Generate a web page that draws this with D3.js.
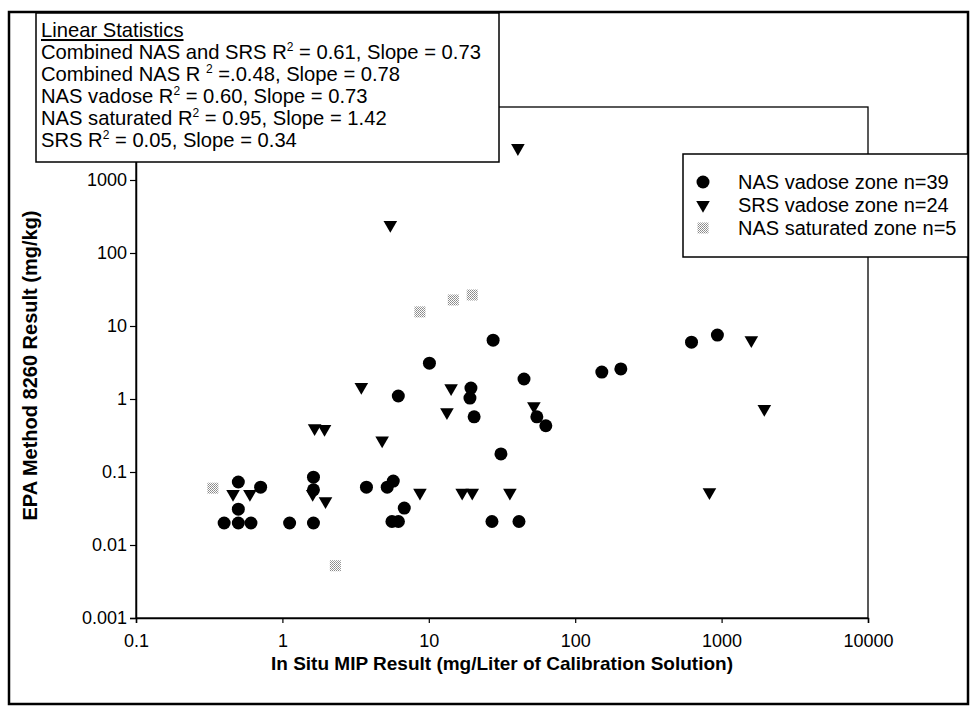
<!DOCTYPE html>
<html><head><meta charset="utf-8">
<script src="https://cdn.jsdelivr.net/npm/d3@7"></script>
<style>html,body{margin:0;padding:0;background:#fff;}svg{display:block;font-family:Arial,"Liberation Sans",sans-serif;}</style>
</head><body>
<svg id="c" width="971" height="711"></svg>
<script>
// ---- data ----
const nasVadoseX = [0.40,0.50,0.61,0.50,0.50,0.71,1.12,1.63,1.63,1.63,3.75,5.2,5.72,5.6,6.2,6.8,6.19,10.1,19.4,19.1,20.4,27.5,31.1,27,41.3,44.7,54.7,63,152,205,623,936];
const nasVadoseY = [0.02,0.02,0.02,0.031,0.073,0.062,0.02,0.02,0.085,0.057,0.062,0.062,0.075,0.021,0.021,0.032,1.1,3.1,1.41,1.03,0.57,6.4,0.177,0.021,0.021,1.88,0.57,0.43,2.34,2.58,6.0,7.5];
const srsX = [0.46,0.60,1.61,1.97,1.66,1.94,3.46,4.8,8.7,5.46,13.3,14.2,16.9,19.8,40.6,35.8,52.2,1596,1958,826];
const srsY = [0.05,0.05,0.05,0.04,0.40,0.39,1.46,0.27,0.052,242,0.66,1.41,0.052,0.052,2740,0.052,0.80,6.4,0.73,0.053];
const nasSatX = [0.335,2.30,8.7,14.7,19.8];
const nasSatY = [0.060,0.0052,15.6,22.7,26.6];
const xTicks = [0.1,1,10,100,1000,10000];
const xTickLabels = ["0.1","1","10","100","1000","10000"];
const yTicks = [0.001,0.01,0.1,1,10,100,1000];
const yTickLabels = ["0.001","0.01","0.1","1","10","100","1000"];
const legendLabels = ["NAS vadose zone n=39","SRS vadose zone n=24","NAS saturated zone n=5"];
const statsTitle = "Linear Statistics";
const statsLines = [
  ["Combined NAS and SRS R","2"," = 0.61, Slope = 0.73"],
  ["Combined NAS R ","2"," =.0.48, Slope = 0.78"],
  ["NAS vadose R","2"," = 0.60, Slope = 0.73"],
  ["NAS saturated R","2"," = 0.95, Slope = 1.42"],
  ["SRS R","2"," = 0.05, Slope = 0.34"]
];
const xTitle = "In Situ MIP Result (mg/Liter of Calibration Solution)";
const yTitle = "EPA Method 8260 Result (mg/kg)";

// ---- layout ----
const svg = d3.select("#c");
const L = 136, R = 868, T = 107, B = 618;
const x = d3.scaleLog().domain([0.1,10000]).range([L,R]);
const y = d3.scaleLog().domain([0.001,10000]).range([B,T]);

const defs = svg.append("defs");
const pat = defs.append("pattern").attr("id","dither").attr("patternUnits","userSpaceOnUse").attr("width",2).attr("height",2);
pat.append("rect").attr("width",2).attr("height",2).attr("fill","#fff");
pat.append("rect").attr("width",1).attr("height",1).attr("fill","#888");
pat.append("rect").attr("x",1).attr("y",1).attr("width",1).attr("height",1).attr("fill","#999");

// outer frame
svg.append("rect").attr("x",9).attr("y",12).attr("width",959).attr("height",692)
  .attr("fill","none").attr("stroke","#000").attr("stroke-width",2.5);

// plot frame (top/right)
svg.append("rect").attr("x",L).attr("y",T).attr("width",R-L).attr("height",B-T)
  .attr("fill","none").attr("stroke","#000").attr("stroke-width",1.3);

// axes
const xAxis = d3.axisBottom(x).tickValues(xTicks).tickFormat((d,i)=>xTickLabels[i]).tickSizeOuter(0).tickSize(5).tickPadding(11);
const gx = svg.append("g").attr("transform",`translate(0,${B})`).call(xAxis);
const yAxis = d3.axisLeft(y).tickValues(yTicks).tickFormat((d,i)=>yTickLabels[i]).tickSizeOuter(0).tickSize(6).tickPadding(3);
const gy = svg.append("g").attr("transform",`translate(${L},0)`).call(yAxis);
[gx,gy].forEach(g=>{
  g.select(".domain").attr("stroke","#000").attr("stroke-width",1.5);
  g.selectAll(".tick line").attr("stroke","#000").attr("stroke-width",1.2);
  g.selectAll(".tick text").attr("fill","#000").style("font-size","18px").style("font-family","Arial,'Liberation Sans',sans-serif");
});

// axis titles
svg.append("text").attr("x",(L+R)/2).attr("y",670).attr("text-anchor","middle")
  .style("font-size","19px").style("font-weight","bold").text(xTitle);
svg.append("text").attr("transform",`translate(37,${(T+B)/2+3}) rotate(-90)`).attr("text-anchor","middle")
  .style("font-size","20px").style("font-weight","bold").text(yTitle);

// points
const pts = svg.append("g");
pts.selectAll("path.srs").data(srsX.map((v,i)=>[v,srsY[i]])).join("path")
  .attr("d",d3.symbol(d3.symbolTriangle,80)())
  .attr("transform",d=>`translate(${x(d[0])},${y(d[1])}) rotate(180)`).attr("fill","#000");
pts.selectAll("circle").data(nasVadoseX.map((v,i)=>[v,nasVadoseY[i]])).join("circle")
  .attr("cx",d=>x(d[0])).attr("cy",d=>y(d[1])).attr("r",6.5).attr("fill","#000");
pts.selectAll("rect.sat").data(nasSatX.map((v,i)=>[v,nasSatY[i]])).join("rect")
  .attr("x",d=>x(d[0])-5.5).attr("y",d=>y(d[1])-5.5).attr("width",11).attr("height",11).attr("fill","url(#dither)");

// stats box
svg.append("rect").attr("x",36).attr("y",13).attr("width",463).attr("height",149)
  .attr("fill","#fff").attr("stroke","#000").attr("stroke-width",1.5);
const st = svg.append("g").style("font-size","20.2px");
st.append("text").attr("x",41).attr("y",37).style("text-decoration","underline").text(statsTitle);
statsLines.forEach((ln,i)=>{
  const t = st.append("text").attr("x",41).attr("y",59+i*22);
  t.append("tspan").text(ln[0]);
  t.append("tspan").attr("dy",-8).style("font-size","12px").text(ln[1]);
  t.append("tspan").attr("dy",8).text(ln[2]);
});

// legend box
svg.append("rect").attr("x",683).attr("y",154).attr("width",285).attr("height",103)
  .attr("fill","#fff").attr("stroke","#000").attr("stroke-width",1.5);
const lg = svg.append("g");
const ly = [182,205,228];
lg.append("circle").attr("cx",703).attr("cy",ly[0]).attr("r",6.5).attr("fill","#000");
lg.append("path").attr("d",d3.symbol(d3.symbolTriangle,80)()).attr("transform",`translate(703,${ly[1]}) rotate(180)`).attr("fill","#000");
lg.append("rect").attr("x",697.5).attr("y",ly[2]-5.5).attr("width",11).attr("height",11).attr("fill","url(#dither)");
legendLabels.forEach((s,i)=>{
  lg.append("text").attr("x",738).attr("y",ly[i]+7).style("font-size","20px").text(s);
});
</script>
</body></html>
